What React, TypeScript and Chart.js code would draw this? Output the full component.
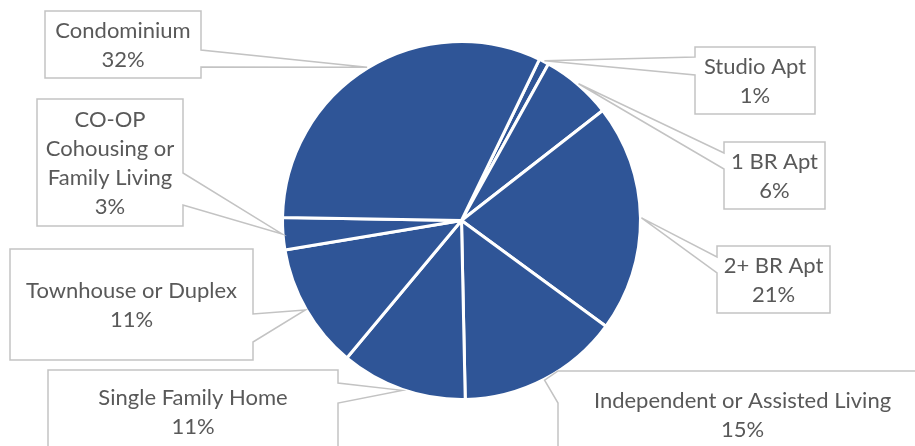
import React, { useEffect, useRef } from "react";
import { Chart, registerables } from "chart.js";

Chart.register(...registerables);

const categories = [
  "Studio Apt",
  "1 BR Apt",
  "2+ BR Apt",
  "Independent or Assisted Living",
  "Single Family Home",
  "Townhouse or Duplex",
  "CO-OP Cohousing or Family Living",
  "Condominium",
];
const shares = [0.9, 6.4, 20.6, 14.6, 11.4, 11.3, 2.9, 31.9];

// callout box layout (pixel positions of the label boxes)
const calloutBoxes = [
  { x: 695, y: 47, w: 120, h: 67, side: "left", b0: 57, b1: 75 },
  { x: 724, y: 142, w: 101, h: 67, side: "left", b0: 153, b1: 169 },
  { x: 717, y: 246, w: 113, h: 67, side: "left", b0: 257, b1: 273 },
  { x: 558, y: 371, w: 369, h: 86, side: "left", b0: 371, b1: 403 },
  { x: 48, y: 370, w: 290, h: 82, side: "right", b0: 383, b1: 403 },
  { x: 10, y: 249, w: 243, h: 111, side: "right", b0: 314, b1: 342 },
  { x: 37, y: 99, w: 146, h: 127, side: "right", b0: 173, b1: 205 },
  { x: 45, y: 11, w: 156, h: 67, side: "right", b0: 50, b1: 67 },
];

const FONT = "22px Lato";
const TEXT_COLOR = "#595959";
const BORDER_COLOR = "#c3c3c3";
const LINE_H = 29;

function wrap(ctx: CanvasRenderingContext2D, text: string, maxW: number): string[] {
  const words = text.split(" ");
  const lines: string[] = [];
  let cur = "";
  for (const w of words) {
    const t = cur ? cur + " " + w : w;
    if (ctx.measureText(t).width > maxW && cur) {
      lines.push(cur);
      cur = w;
    } else cur = t;
  }
  if (cur) lines.push(cur);
  return lines;
}

const calloutPlugin = {
  id: "callouts",
  afterDatasetsDraw(chart: any) {
    const ctx: CanvasRenderingContext2D = chart.ctx;
    const meta = chart.getDatasetMeta(0);
    const data = chart.data.datasets[0].data as number[];
    const total = data.reduce((a, b) => a + b, 0);
    ctx.save();
    ctx.font = FONT;
    meta.data.forEach((arc: any, i: number) => {
      const box = calloutBoxes[i];
      if (!box) return;
      const mid = (arc.startAngle + arc.endAngle) / 2;
      const R = arc.outerRadius + 1;
      const tx = arc.x + Math.cos(mid) * R;
      const ty = arc.y + Math.sin(mid) * R;
      const { x, y, w, h, side, b0, b1 } = box;
      ctx.beginPath();
      if (side === "right") {
        ctx.moveTo(x, y);
        ctx.lineTo(x + w, y);
        ctx.lineTo(x + w, b0);
        ctx.lineTo(tx, ty);
        ctx.lineTo(x + w, b1);
        ctx.lineTo(x + w, y + h);
        ctx.lineTo(x, y + h);
        ctx.closePath();
      } else {
        ctx.moveTo(x + w, y);
        ctx.lineTo(x + w, y + h);
        ctx.lineTo(x, y + h);
        ctx.lineTo(x, b1);
        ctx.lineTo(tx, ty);
        ctx.lineTo(x, b0);
        ctx.lineTo(x, y);
        ctx.closePath();
      }
      ctx.fillStyle = "#ffffff";
      ctx.fill();
      ctx.lineWidth = 1.5;
      ctx.strokeStyle = BORDER_COLOR;
      ctx.lineJoin = "miter";
      ctx.stroke();

      const label = chart.data.labels[i] as string;
      const pct = Math.round((data[i] / total) * 100) + "%";
      const lines = [...wrap(ctx, label, w - 8), pct];
      ctx.fillStyle = TEXT_COLOR;
      ctx.textAlign = "center";
      ctx.textBaseline = "middle";
      const cx = x + w / 2;
      const cy = y + h / 2;
      lines.forEach((ln, k) => {
        const ly = cy + (k - (lines.length - 1) / 2) * LINE_H + 1;
        ctx.fillText(ln, cx, ly);
      });
    });
    ctx.restore();
  },
};

export default function App() {
  const ref = useRef<HTMLCanvasElement | null>(null);
  useEffect(() => {
    if (!ref.current) return;
    const chart = new Chart(ref.current, {
      type: "pie",
      data: {
        labels: categories,
        datasets: [
          {
            data: shares,
            backgroundColor: "#2f5597",
            borderColor: "#ffffff",
            borderWidth: 3,
            hoverOffset: 0,
          },
        ],
      },
      options: {
        responsive: false,
        animation: false,
        rotation: 25.8,
        radius: 179,
        layout: { padding: { left: 8, right: 0, top: 0, bottom: 5 } },
        plugins: {
          legend: { display: false },
          tooltip: { enabled: false },
        },
        events: [],
      },
      plugins: [calloutPlugin],
    });
    return () => chart.destroy();
  }, []);
  return (
    <div style={{ position: "absolute", left: 0, top: 0, width: 915, height: 446, background: "#fff" }}>
      <canvas ref={ref} width={915} height={446} />
    </div>
  );
}
